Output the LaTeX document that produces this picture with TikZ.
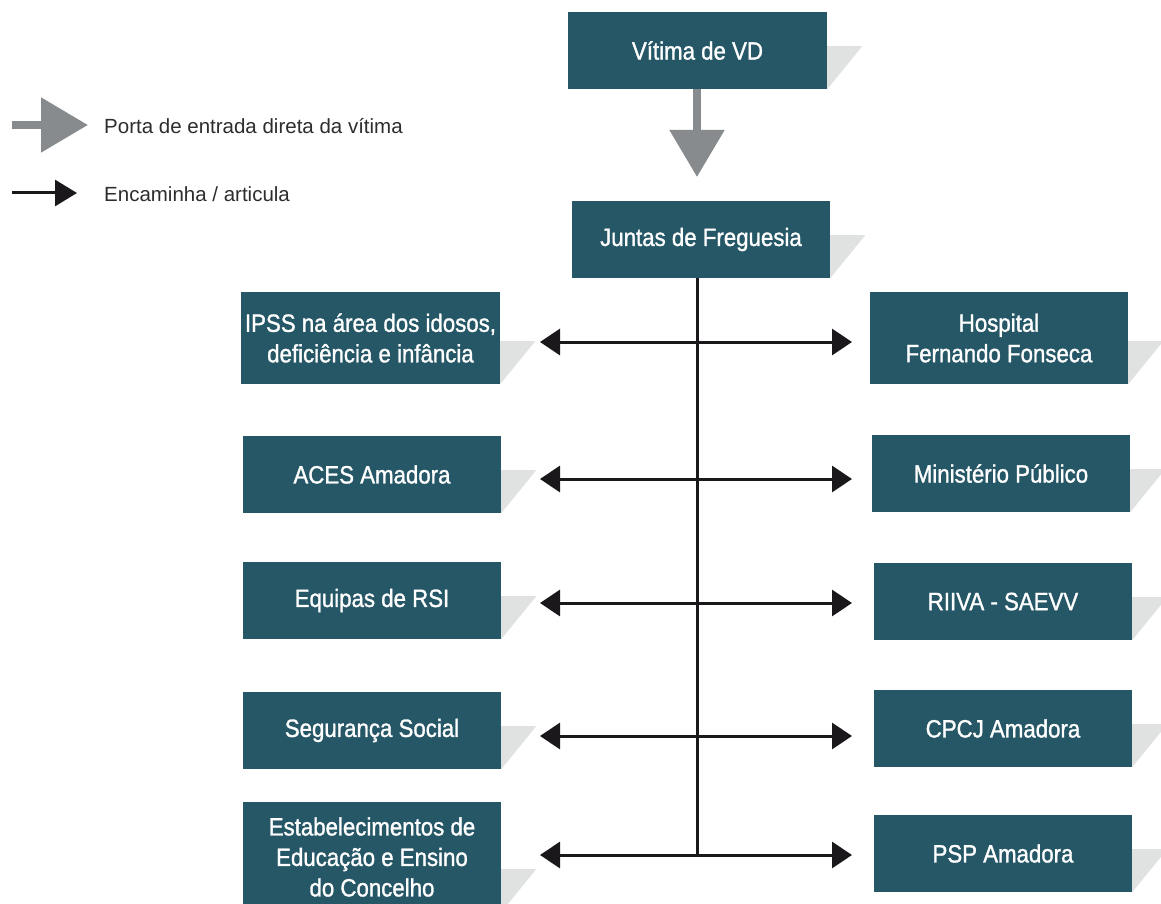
\documentclass[tikz,border=0pt]{standalone}
\usepackage{fontspec}
\setmainfont{Liberation Sans}
\newfontfamily\boxfont{Liberation Sans}[FakeStretch=0.89,FakeBold=1.2]
\usetikzlibrary{arrows.meta}
\definecolor{boxc}{RGB}{38,87,102}
\definecolor{shadc}{RGB}{224,225,225}
\definecolor{grayarr}{RGB}{135,139,142}
\definecolor{blk}{RGB}{26,24,27}
\definecolor{legtxt}{RGB}{45,45,45}
\tikzset{
  box/.style={fill=boxc, text=white, align=center, inner sep=0pt,
    font=\boxfont\fontsize{25}{30.5}\selectfont},
  shad/.style={fill=shadc},
  conn/.style={draw=blk, line width=3pt},
  biarrow/.style={conn, {Triangle[length=20pt,width=26pt]}-{Triangle[length=20pt,width=26pt]}},
  onearrow/.style={conn, -{Triangle[length=22pt,width=26pt]}},
  bigarrow/.style={draw=grayarr, line width=8.5pt, -{Triangle[length=47pt,width=53pt]}},
  legend/.style={anchor=west, text=legtxt, font=\fontsize{20.5}{24}\selectfont, inner sep=0pt}
}
\newcommand\shadowof[1]{\fill[shad] ([yshift=43pt]#1.south east) -- ++(35pt,0) -- (#1.south east) -- cycle;}
\begin{document}
\begin{tikzpicture}[x=1pt,y=-1pt]
\clip (0,0) rectangle (1161,904);
\fill[white] (0,0) rectangle (1161,904);
% top boxes
\node[box, minimum width=259pt, minimum height=77pt] (vit) at (697.5,50.5) {Vítima de VD};
\node[box, minimum width=258pt, minimum height=77pt] (jun) at (701,239.5) {Juntas de Freguesia};
% left column
\node[box, minimum width=259pt, minimum height=92pt] (ipss) at (370.5,338) {IPSS na área dos idosos,\\deficiência e infância};
\node[box, minimum width=258pt, minimum height=77pt] (aces) at (372,474.5) {ACES Amadora};
\node[box, minimum width=258pt, minimum height=77pt] (rsi) at (372,600.5) {Equipas de RSI};
\node[box, minimum width=258pt, minimum height=77pt] (seg) at (372,730.5) {Segurança Social};
\node[box, minimum width=258pt, minimum height=110pt] (est) at (372,857) {Estabelecimentos de\\Educação e Ensino\\do Concelho};
% right column
\node[box, minimum width=258pt, minimum height=92pt] (hos) at (999,338) {Hospital\\Fernando Fonseca};
\node[box, minimum width=258pt, minimum height=77pt] (mp) at (1001,473.5) {Ministério Público};
\node[box, minimum width=258pt, minimum height=77pt] (riiva) at (1003,601.5) {RIIVA - SAEVV};
\node[box, minimum width=258pt, minimum height=77pt] (cpcj) at (1003,728.5) {CPCJ Amadora};
\node[box, minimum width=258pt, minimum height=77pt] (psp) at (1003,853.5) {PSP Amadora};
% shadows
\foreach \n in {vit,jun,ipss,aces,rsi,seg,est,hos,mp,riiva,cpcj,psp}{\shadowof{\n}}
% gray arrow
\coordinate (gtip) at (697,177);
\draw[bigarrow] (vit.south -| gtip) -- (gtip);
% trunk
\coordinate (tbot) at (697,856.5);
\draw[conn] (jun.south -| tbot) -- (tbot);
% horizontal arrows
\foreach \i/\y in {1/342,2/479,3/603,4/736,5/855}{
  \coordinate (l\i) at (540,\y);
  \coordinate (r\i) at (852,\y);
  \draw[biarrow] (l\i) -- (r\i);
}
% legend
\coordinate (lg1a) at (12,125);
\coordinate (lg1b) at (88,125);
\draw[bigarrow] (lg1a) -- (lg1b);
\node[legend] (lgt1) at (104,126) {Porta de entrada direta da vítima};
\coordinate (lg2a) at (12,193);
\coordinate (lg2b) at (77,193);
\draw[onearrow] (lg2a) -- (lg2b);
\node[legend] (lgt2) at (104,194) {Encaminha / articula};
\end{tikzpicture}
\end{document}
